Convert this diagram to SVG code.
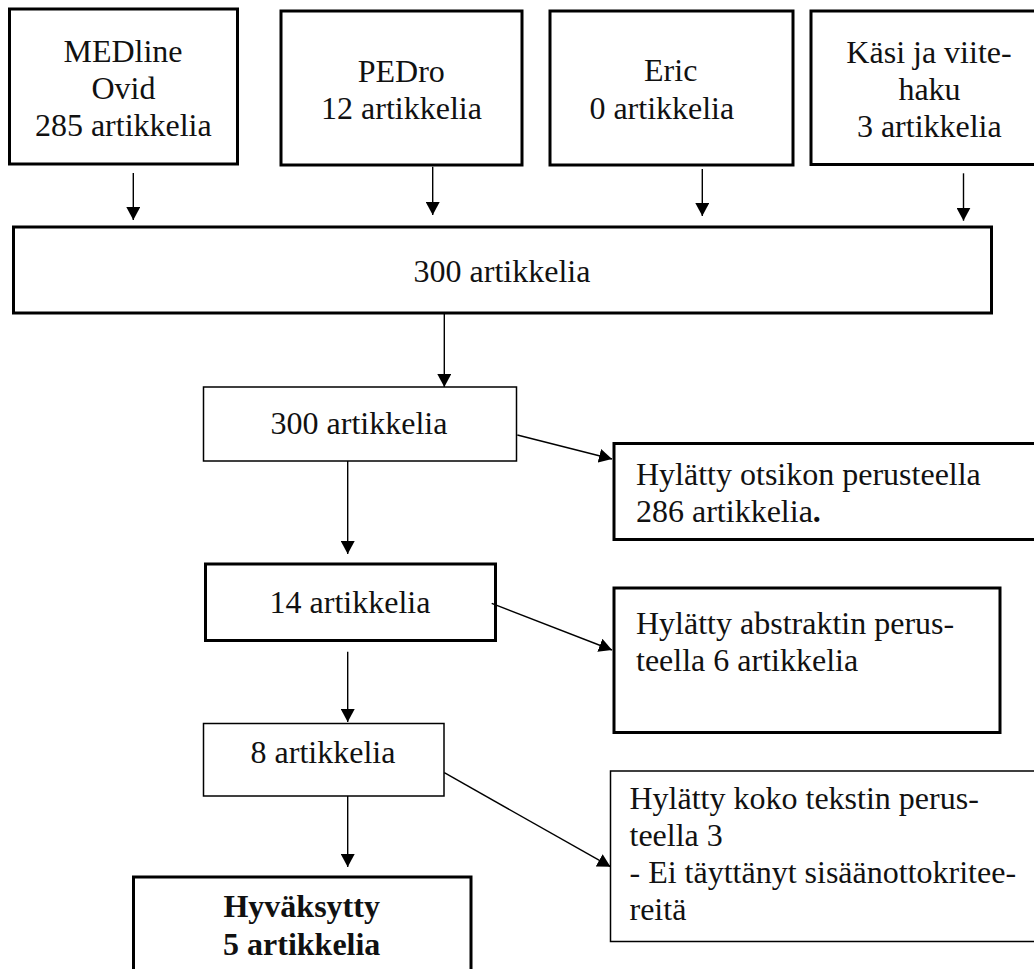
<svg xmlns="http://www.w3.org/2000/svg" width="1034" height="969" viewBox="0 0 1034 969">
<style>
.bx{fill:#fff;stroke:#000}
.thick{stroke-width:3}
.thin{stroke-width:1.5}
.c{text-anchor:middle}
.b{font-weight:bold}
.ln{stroke:#000;stroke-width:1.4;fill:none;marker-end:url(#ah)}
</style>
<defs>
<marker id="ah" markerUnits="userSpaceOnUse" markerWidth="14" markerHeight="14" refX="13" refY="7" orient="auto">
<path d="M0,0 L13,7 L0,14 z" fill="#000"/>
</marker>
</defs>
<rect width="1034" height="969" fill="#fff"/>
<g font-family="Liberation Serif, Times New Roman, DejaVu Serif, serif" font-size="32" fill="#111">
<g id="medline"><rect class="bx thick" x="9.5" y="9" width="228" height="155"/>
<text class="c" x="123" y="62">MEDline</text><text class="c" x="123.5" y="99">Ovid</text><text class="c" x="123.3" y="136">285 artikkelia</text></g>
<g id="pedro"><rect class="bx thick" x="281" y="11" width="241" height="154"/>
<text class="c" x="401.3" y="82">PEDro</text><text class="c" x="401.5" y="119">12 artikkelia</text></g>
<g id="eric"><rect class="bx thick" x="550" y="11" width="243" height="154"/>
<text class="c" x="670.7" y="81">Eric</text><text class="c" x="661.8" y="119">0 artikkelia</text></g>
<g id="kasi"><rect class="bx thick" x="811" y="11" width="240" height="153.5"/>
<text class="c" x="929" y="63">Käsi ja viite-</text><text class="c" x="929.5" y="100">haku</text><text class="c" x="929.3" y="137">3 artikkelia</text></g>
<g id="total"><rect class="bx thick" x="13.5" y="227" width="978" height="86"/>
<text class="c" x="502" y="282">300 artikkelia</text></g>
<g id="screen1"><rect class="bx thin" x="203.5" y="387" width="313" height="74"/>
<text class="c" x="359" y="434">300 artikkelia</text></g>
<g id="excl1"><rect class="bx thick" x="614" y="443.5" width="430" height="96"/>
<text x="636" y="485">Hylätty otsikon perusteella</text><text x="636" y="522">286 artikkelia<tspan class="b">.</tspan></text></g>
<g id="screen2"><rect class="bx thick" x="205.5" y="564" width="290" height="76.5"/>
<text class="c" x="350" y="613">14 artikkelia</text></g>
<g id="excl2"><rect class="bx thick" x="614" y="588" width="386" height="144.5"/>
<text x="636" y="634">Hylätty abstraktin perus-</text><text x="636" y="671">teella 6 artikkelia</text></g>
<g id="screen3"><rect class="bx thin" x="203.5" y="723.5" width="240.5" height="72.5"/>
<text class="c" x="323" y="763">8 artikkelia</text></g>
<g id="excl3"><rect class="bx thin" x="610.5" y="771" width="430" height="170.5"/>
<text x="629.5" y="809">Hylätty koko tekstin perus-</text><text x="629.5" y="846">teella 3</text><text x="629.5" y="883">- Ei täyttänyt sisäänottokritee-</text><text x="629.5" y="920">reitä</text></g>
<g id="accepted"><rect class="bx thick" x="133.5" y="877" width="337.5" height="110"/>
<text class="c b" x="301.7" y="917">Hyväksytty</text><text class="c b" x="301.7" y="955">5 artikkelia</text></g>
</g>
<g id="connectors">
<line class="ln" x1="133.3" y1="173" x2="133.3" y2="220"/>
<line class="ln" x1="432.7" y1="166.7" x2="432.7" y2="215"/>
<line class="ln" x1="702.3" y1="169" x2="702.3" y2="216"/>
<line class="ln" x1="963.5" y1="173.3" x2="963.5" y2="220.7"/>
<line class="ln" x1="444.3" y1="313" x2="444.3" y2="387"/>
<line class="ln" x1="517.3" y1="435" x2="612" y2="459"/>
<line class="ln" x1="347.7" y1="461" x2="347.7" y2="554"/>
<line class="ln" x1="491.7" y1="603.3" x2="612" y2="650"/>
<line class="ln" x1="347.7" y1="651.7" x2="347.7" y2="722"/>
<line class="ln" x1="347.7" y1="796" x2="347.7" y2="867"/>
<line class="ln" x1="444.3" y1="772.7" x2="610.5" y2="866.7"/>
</g>
</svg>
